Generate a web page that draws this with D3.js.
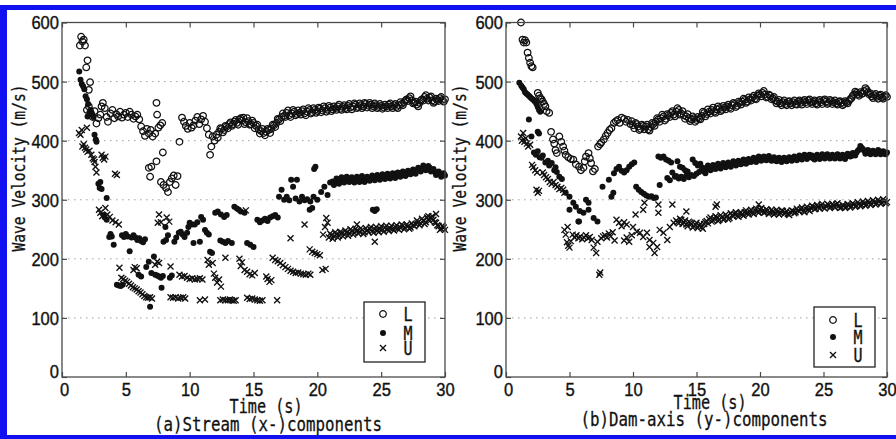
<!DOCTYPE html>
<html>
<head>
<meta charset="utf-8">
<script src="https://cdn.jsdelivr.net/npm/d3@7"></script>
<style>
  body { margin: 0; background: #fff; }
  svg { display: block; }
</style>
</head>
<body>
<svg id="fig" width="896" height="439"></svg>
<script>
// ---- Axis ticks ----
const timeTicks = [0, 5, 10, 15, 20, 25, 30];
const velocityTicks = [0, 100, 200, 300, 400, 500, 600];
const gridValues = [100, 200, 300, 400, 500];
const seriesNames = ["L", "M", "U"];

// ---- (a) Stream (x-) components : [time (s), wave velocity (m/s)] ----
const streamL = [
  [1.4,561],[1.5,576],[1.6,568],[1.7,571],[1.8,561],[1.9,524],[2.0,536],[2.1,486],[2.2,499],
  [1.95,452],[2.1,458],[2.25,447],[2.4,440],[2.55,450],[2.7,429],[2.85,438],[3.0,444],[3.1,458],
  [3.2,464],[3.35,455],[3.5,440],[3.6,432],[3.8,446],[3.95,452],[4.1,438],[4.25,445],[4.4,441],
  [4.55,449],[4.7,439],[4.85,444],[5.0,447],[5.15,440],[5.3,449],[5.45,444],[5.6,437],[5.75,441],
  [5.9,444],[6.05,436],[6.2,424],[6.35,416],[6.5,408],[6.65,420],[6.8,412],[6.95,418],[7.1,407],
  [7.3,412],[7.4,464],[7.45,444],[7.55,422],[7.7,426],[7.85,430],
  [6.8,354],[6.9,339],[7.0,356],[7.4,365],[7.9,380],[7.75,330],[7.95,325],[8.15,320],[8.3,313],
  [8.45,330],[8.6,336],[8.75,341],[8.9,325],[9.05,340],[9.2,398],
  [9.4,439],[9.55,432],[9.7,425],[9.85,420],[10.0,430],[10.15,422],[10.3,426],[10.45,434],[10.6,440],
  [10.75,428],[10.9,436],[11.05,442],[11.2,432],[11.35,421],[11.5,410],[11.6,376],[11.7,390],[11.8,407],
  [11.95,400],[12.1,410],[12.3,415],[12.5,420],[12.7,418],[12.9,424],[13.1,428],[13.3,425],[13.5,432],
  [13.7,430],[13.9,436],[14.1,434],[14.2,439],[14.4,431],[14.6,433],[14.8,428],[15.0,430],[15.2,425],
  [15.4,419],[15.6,416],[15.8,413],[16.0,415],[16.2,418],[16.4,420],[16.6,426],[16.8,430],[17.0,436],
  [17.2,440],[17.4,442],[17.6,447],[17.8,443],[18.0,446],[18.2,449],[18.4,445],[18.6,447],[18.8,450],
  [19.0,446],[19.2,449],[19.4,452],[19.6,448],[19.8,452],[20.0,450],[20.2,454],[20.4,451],[20.6,455],
  [20.8,452],[21.0,456],[21.2,453],[21.4,455],[21.6,458],[21.8,454],[22.0,457],[22.2,455],[22.4,459],
  [22.6,456],[22.8,458],[23.0,461],[23.2,457],[23.4,460],[23.6,458],[23.8,462],[24.0,459],[24.2,461],
  [24.4,458],[24.6,460],[24.8,457],[25.0,459],[25.2,456],[25.4,458],[25.6,461],[25.8,458],[26.0,460],
  [26.2,457],[26.4,460],[26.6,462],[26.8,465],[27.0,470],[27.2,472],[27.4,468],[27.6,464],[27.8,461],
  [28.0,464],[28.2,470],[28.4,474],[28.6,471],[28.8,473],[29.0,468],[29.2,466],[29.4,469],[29.6,472],
  [29.8,469],[30.0,470]
];
const streamLDense = [
  [12.2,405],[12.4,421],[12.6,414],[12.8,425],[13.0,421],[13.2,431],[13.4,428],[13.6,435],[13.8,427],
  [14.0,438],[14.3,428],[14.5,438],[14.7,427],[14.9,434],[15.1,421],[15.3,427],[15.5,412],[15.7,420],
  [15.9,409],[16.1,420],[16.3,413],[16.5,427],[16.7,423],[16.9,437],[17.1,433],[17.3,446],[17.5,440],
  [17.7,451],[17.9,440],[18.1,452],[18.3,443],[18.5,451],[18.7,444],[18.9,453],[19.1,443],[19.3,455],
  [19.5,446],[19.7,455],[19.9,447],[20.1,456],[20.3,448],[20.5,458],[20.7,449],[20.9,459],[21.1,450],
  [21.3,458],[21.5,452],[21.7,461],[21.9,452],[22.1,460],[22.3,453],[22.5,462],[22.7,453],[22.9,463],
  [23.1,455],[23.3,463],[23.5,455],[23.7,464],[23.9,456],[24.1,464],[24.3,455],[24.5,463],[24.7,455],
  [24.9,462],[25.1,454],[25.3,461],[25.5,455],[25.7,463],[25.9,455],[26.1,462],[26.3,455],[26.5,465],
  [26.7,460],[26.9,468],[27.1,467],[27.3,475],[27.5,463],[27.7,466],[27.9,458],[28.1,468],[28.3,468],
  [28.5,477],[28.7,468],[28.9,475],[29.1,464],[29.3,471],[29.5,467],[29.7,474],[29.9,466]
];
const streamM = [
  [1.35,517],[1.45,503],[1.55,496],[1.65,492],[1.75,487],[1.85,475],[1.95,470],[2.05,462],[2.0,441],
  [2.15,448],[2.25,452],[2.35,445],[2.45,440],[2.55,410],[2.65,402],[2.7,398],[2.85,327],[2.95,320],
  [3.0,330],[3.1,318],[3.5,303],[3.25,274],[3.35,270],[3.5,266],[3.7,237],[3.8,242],[3.9,238],[4.05,224],
  [4.3,156],[4.45,155],[4.6,154],[4.75,156],[4.7,240],[4.85,237],[5.0,242],[5.15,238],[5.3,213],
  [5.45,236],[5.6,240],[5.75,236],[5.9,232],[6.05,235],[6.2,230],[6.35,228],[6.5,233],[6.0,173],
  [6.2,170],[6.6,186],[6.8,195],[6.9,119],[7.0,176],[7.2,204],[7.3,173],[7.45,172],[7.6,170],[7.75,168],
  [7.9,171],[7.8,151],[8.1,254],[8.3,240],[8.45,168],[8.6,172],[7.95,229],[8.15,232],[8.8,229],
  [8.95,236],[9.15,244],[9.3,246],[9.45,241],[9.6,237],[9.8,244],[9.9,254],[10.0,261],[10.2,258],
  [10.4,258],[10.6,262],[10.3,227],[10.8,229],[10.9,271],[11.05,266],[11.2,249],[11.35,244],[11.5,241],
  [11.6,212],[11.75,210],[12.0,278],[12.2,280],[12.45,275],[12.7,271],[12.9,274],[12.4,231],[12.6,229],
  [12.8,227],[13.0,230],[13.3,227],[13.5,288],[13.7,285],[13.85,283],[14.0,280],[14.3,278],[14.5,227],
  [14.75,224],[15.0,220],[15.3,266],[15.5,262],[15.7,265],[15.9,268],[16.1,264],[16.3,270],[16.5,272],
  [16.7,274],[16.9,270],[17.0,305],[17.2,317],[17.4,300],[17.6,305],[17.8,299],[17.95,334],[18.1,322],
  [18.4,334],[18.3,302],[18.6,297],[18.8,305],[19.0,299],[19.2,301],[19.4,283],[19.45,297],[19.6,286],
  [19.7,305],[19.75,352],[19.85,356],[20.0,300],[20.3,313],[20.55,322],[20.8,308],[21.0,329],
  [21.2,331],[21.4,328],[21.6,334],[21.8,331],[22.0,336],[22.2,333],[22.4,337],[22.6,334],[22.8,332],
  [23.0,336],[23.2,333],[23.4,337],[23.6,335],[23.8,333],[24.0,337],[24.2,335],[24.4,338],[24.6,336],
  [24.8,339],[25.0,337],[25.2,340],[25.4,338],[25.6,341],[25.8,339],[26.0,342],[26.2,340],[26.4,344],
  [26.6,342],[26.8,345],[27.0,343],[27.2,346],[27.4,348],[27.6,346],[27.8,350],[28.0,351],[28.2,353],
  [28.4,355],[28.6,352],[28.8,354],[29.0,350],[29.2,347],[29.4,344],[29.6,345],[29.8,342],[30.0,341],
  [24.35,283],[24.5,281],[24.65,284]
];
const streamMDense = [
  [21.3,325],[21.5,336],[21.7,327],[21.9,338],[22.1,329],[22.3,339],[22.5,330],[22.7,338],[22.9,329],
  [23.1,339],[23.3,330],[23.5,340],[23.7,330],[23.9,339],[24.1,332],[24.3,341],[24.5,333],[24.7,342],
  [24.9,334],[25.1,343],[25.3,335],[25.5,344],[25.7,336],[25.9,345],[26.1,337],[26.3,346],[26.5,339],
  [26.7,348],[26.9,340],[27.1,349],[27.3,343],[27.5,351],[27.7,344],[27.9,354],[28.1,348],[28.3,358],
  [28.5,350],[28.7,357],[28.9,348],[29.1,352],[29.3,342],[29.5,348],[29.7,339],[29.9,345]
];
const streamU = [
  [1.33,413],[1.45,410],[1.55,418],[1.95,422],[1.6,390],[1.7,394],[1.8,388],[1.9,385],[2.0,381],
  [2.15,383],[2.3,376],[2.4,370],[2.5,368],[2.55,364],[2.62,356],[2.7,346],[3.1,376],[3.2,371],
  [3.3,368],[3.4,373],[4.15,344],[4.3,342],[2.9,283],[3.0,278],[3.15,272],[3.4,286],[3.55,275],
  [3.75,271],[3.95,265],[4.2,262],[4.45,258],[4.5,185],[4.65,168],[4.8,166],[4.95,163],[5.1,161],
  [5.25,158],[5.4,155],[5.55,152],[5.7,150],[5.85,148],[6.0,145],[6.15,143],[6.3,140],[6.45,137],
  [6.6,135],[6.75,134],[6.9,135],[7.05,133],[5.6,181],[5.7,186],[5.85,184],[7.3,190],[7.45,195],
  [7.6,193],[7.5,261],[7.6,275],[7.75,262],[8.2,270],[8.4,263],[8.5,187],[8.5,135],[8.7,134],[8.9,135],
  [9.1,133],[9.3,134],[9.5,135],[9.65,133],[9.2,173],[9.4,170],[9.6,171],[9.8,168],[10.0,166],
  [10.2,167],[10.4,165],[10.6,166],[10.8,167],[11.0,165],[10.8,130],[11.2,131],[11.4,198],[11.5,190],
  [11.8,193],[11.9,175],[12.0,168],[12.15,160],[12.3,165],[12.45,153],[12.4,130],[12.6,131],[12.8,130],
  [13.0,130],[13.15,131],[13.3,130],[13.45,129],[13.6,130],[12.8,202],[13.9,200],[14.0,188],[14.1,194],
  [14.3,181],[14.4,282],[14.5,178],[14.7,174],[14.9,172],[15.1,176],[14.5,134],[14.7,132],[14.9,133],
  [15.1,131],[15.3,130],[15.5,129],[15.7,130],[16.0,170],[16.1,166],[16.25,161],[16.4,164],[16.85,130],
  [16.5,202],[16.7,198],[16.9,196],[17.1,193],[17.3,189],[17.5,186],[17.7,183],[17.9,180],[18.1,178],
  [18.3,176],[18.5,177],[18.7,175],[18.9,174],[19.1,173],[19.3,175],[19.45,173],[17.9,235],[19.0,258],
  [19.4,216],[19.6,212],[19.8,210],[20.0,208],[20.2,206],[20.4,181],[20.65,183],[20.45,241],[20.6,254],
  [20.8,261],[20.7,269],
  [20.9,236],[21.1,240],[21.3,238],[21.5,242],[21.7,239],[21.9,244],[22.1,241],[22.3,245],[22.5,243],
  [22.7,247],[22.9,244],[23.1,248],[23.3,246],[23.5,249],[23.7,245],[23.9,248],[24.1,251],[24.3,247],
  [24.5,250],[24.7,248],[24.9,251],[25.1,249],[25.3,253],[25.5,250],[25.7,252],[25.9,250],[26.1,254],
  [26.3,251],[26.5,253],[26.7,256],[26.9,252],[27.1,255],[27.3,253],[27.5,257],[27.7,259],[27.9,262],
  [28.1,260],[28.3,265],[28.5,262],[28.7,267],[28.9,270],[29.1,266],[29.3,261],[29.5,255],[29.7,251],
  [29.9,253],[23.1,258],[24.5,229],[28.7,272],[29.3,276]
];
const streamUDense = [
  [21.0,243],[21.2,234],[21.4,245],[21.6,236],[21.8,246],[22.0,238],[22.2,248],[22.4,239],[22.6,250],
  [22.8,241],[23.0,251],[23.2,243],[23.4,252],[23.6,242],[23.8,252],[24.0,245],[24.2,254],[24.4,244],
  [24.6,254],[24.8,245],[25.0,255],[25.2,246],[25.4,256],[25.6,247],[25.8,256],[26.0,248],[26.2,257],
  [26.4,249],[26.6,258],[26.8,250],[27.0,258],[27.2,251],[27.4,260],[27.6,255],[27.8,265],[28.0,257],
  [28.2,268],[28.4,259],[28.6,270],[28.8,264],[29.0,272],[29.2,262],[29.4,257],[29.6,249],[29.8,256],
  [30.0,249]
];

// ---- (b) Dam-axis (y-) components : [time (s), wave velocity (m/s)] ----
const damL = [
  [1.18,600],[1.3,571],[1.4,566],[1.5,570],[1.6,566],[1.7,549],[1.8,540],[1.9,532],[2.0,526],[2.1,524],
  [2.5,481],[2.6,476],[2.7,472],[2.8,470],[2.9,466],[3.0,462],[3.1,458],[3.2,450],[3.4,447],[3.55,415],
  [3.7,402],[3.8,395],[3.9,384],[4.0,379],[4.2,407],[4.35,398],[4.5,390],[4.6,383],[4.7,376],[4.9,372],
  [5.1,369],[5.3,368],[5.5,360],[5.75,356],[5.9,350],[6.1,354],[6.2,365],[6.3,373],[6.5,379],[6.6,370],
  [6.7,362],[6.85,348],[7.0,352],[7.25,390],[7.4,394],[7.5,397],[7.7,402],[7.85,408],[8.0,413],[8.15,418],
  [8.3,421],[8.5,430],[8.65,433],[8.8,435],[8.95,430],[9.1,439],[9.3,437],[9.45,432],[9.6,435],[9.8,428],
  [10.0,426],[10.2,430],[10.4,424],[10.6,420],[10.8,425],[11.0,424],[11.2,419],[11.4,423],[11.6,428],
  [11.8,432],[12.0,436],[12.2,438],[12.4,441],[12.6,437],[12.8,443],[13.0,447],[13.2,444],[13.4,449],
  [13.6,452],[13.8,446],[14.0,443],[14.2,441],[14.4,438],[14.6,436],[14.8,438],[15.0,435],[15.2,437],
  [15.4,442],[15.6,447],[15.8,445],[16.0,449],[16.2,452],[16.4,449],[16.6,453],[16.8,455],[17.0,452],
  [17.2,456],[17.4,458],[17.6,456],[17.8,460],[18.0,462],[18.2,459],[18.4,464],[18.6,466],[18.8,469],
  [19.0,466],[19.2,470],[19.4,473],[19.6,471],[19.8,476],[20.0,478],[20.2,481],[20.4,478],[20.6,474],
  [20.8,476],[21.0,472],[21.2,468],[21.4,466],[21.6,463],[21.8,465],[22.0,462],[22.2,466],[22.4,463],
  [22.6,465],[22.8,462],[23.0,466],[23.2,464],[23.4,467],[23.6,465],[23.8,468],[24.0,465],[24.2,466],
  [24.4,463],[24.6,467],[24.8,465],[25.0,468],[25.2,466],[25.4,464],[25.6,467],[25.8,465],[26.0,463],
  [26.2,466],[26.4,464],[26.6,462],[26.8,465],[27.0,467],[27.2,472],[27.4,478],[27.6,481],[27.8,476],
  [28.0,479],[28.2,484],[28.4,486],[28.6,478],[28.8,475],[29.0,477],[29.2,474],[29.4,476],[29.6,473],
  [29.8,475],[30.0,474]
];
const damLDense = [
  [9.9,433],[10.1,421],[10.3,428],[10.5,418],[10.7,427],[10.9,419],[11.1,427],[11.3,417],[11.5,430],
  [11.7,425],[11.9,438],[12.1,432],[12.3,444],[12.5,434],[12.7,445],[12.9,440],[13.1,450],[13.3,441],
  [13.5,455],[13.7,444],[13.9,450],[14.1,437],[14.3,445],[14.5,433],[14.7,441],[14.9,432],[15.1,440],
  [15.3,436],[15.5,449],[15.7,441],[15.9,453],[16.1,446],[16.3,456],[16.5,447],[16.7,458],[16.9,450],
  [17.1,459],[17.3,453],[17.5,461],[17.7,454],[17.9,464],[18.1,457],[18.3,466],[18.5,461],[18.7,471],
  [18.9,464],[19.1,473],[19.3,468],[19.5,476],[19.7,470],[19.9,480],[20.1,475],[20.3,484],[20.5,473],
  [20.7,478],[20.9,470],[21.1,474],[21.3,463],[21.5,469],[21.7,460],[21.9,468],[22.1,460],[22.3,467],
  [22.5,460],[22.7,468],[22.9,461],[23.1,468],[23.3,461],[23.5,469],[23.7,462],[23.9,470],[24.1,462],
  [24.3,468],[24.5,461],[24.7,469],[24.9,462],[25.1,470],[25.3,462],[25.5,469],[25.7,462],[25.9,468],
  [26.1,461],[26.3,467],[26.5,460],[26.7,467],[26.9,463],[27.1,470],[27.3,476],[27.5,483],[27.7,478],
  [27.9,482],[28.1,480],[28.3,489],[28.5,482],[28.7,480],[28.9,472],[29.1,479],[29.3,471],[29.5,478],
  [29.7,471],[29.9,477]
];
const damM = [
  [1.05,498],[1.2,493],[1.3,490],[1.4,487],[1.5,482],[1.6,480],[1.7,478],[1.8,476],[1.9,474],[2.0,472],
  [2.1,470],[2.2,468],[2.3,466],[2.4,462],[2.5,457],[2.6,452],[2.7,449],[1.8,436],[2.0,407],[2.5,415],
  [2.6,412],[2.2,380],[2.35,376],[2.5,382],[2.65,372],[2.8,371],[2.9,375],[3.1,363],[3.3,366],[3.4,358],
  [3.6,362],[3.8,350],[3.9,355],[4.0,347],[4.2,339],[4.4,335],[4.7,312],[5.0,305],[5.3,295],[5.5,288],
  [5.8,281],[6.1,278],[6.5,283],[5.0,283],[5.7,263],[6.3,300],[6.5,295],[6.9,269],[7.2,263],[5.75,263],
  [7.6,322],[8.1,334],[8.3,305],[8.45,312],[8.5,345],[8.7,352],[8.9,356],[9.1,349],[9.3,346],[9.5,350],
  [9.7,356],[9.9,360],[10.1,363],[10.25,322],[10.45,317],[10.65,313],[10.85,310],[11.05,307],[11.25,305],
  [11.45,306],[11.65,303],[11.8,304],[12.1,325],[12.0,373],[12.2,371],[12.4,373],[12.6,368],[12.8,366],
  [13.0,363],[13.1,346],[13.3,339],[12.7,337],[12.9,333],[13.5,365],
  [13.4,340],[13.6,336],[13.8,339],[14.0,335],[14.2,341],[14.4,338],[14.6,342],[14.8,340],
  [13.7,356],[13.9,354],[14.1,350],[14.3,348],[14.7,368],[14.9,362],[15.1,358],[15.3,361],
  [15.0,344],[15.2,347],[15.4,350],[15.6,348],[15.8,352],[16.0,355],[16.2,352],[16.4,356],[16.6,358],
  [16.8,355],[17.0,359],[17.2,357],[17.4,360],[17.6,358],[17.8,361],[18.0,363],[18.2,360],[18.4,364],
  [18.6,362],[18.8,365],[19.0,363],[19.2,366],[19.4,368],[19.6,366],[19.8,369],[20.0,371],[20.2,368],
  [20.4,370],[20.6,372],[20.8,369],[21.0,367],[21.2,370],[21.4,368],[21.6,366],[21.8,369],[22.0,367],
  [22.2,370],[22.4,368],[22.6,371],[22.8,369],[23.0,372],[23.2,370],[23.4,373],[23.6,371],[23.8,374],
  [24.0,372],[24.2,370],[24.4,373],[24.6,371],[24.8,374],[25.0,372],[25.2,375],[25.4,373],[25.6,371],
  [25.8,374],[26.0,372],[26.2,375],[26.4,373],[26.6,371],[26.8,374],[27.0,376],[27.2,374],[27.4,377],
  [27.6,380],[27.8,385],[28.0,388],[28.2,383],[28.4,380],[28.6,382],[28.8,379],[29.0,381],[29.2,379],
  [29.4,382],[29.6,380],[29.8,378],[30.0,380]
];
const damMDense = [
  [15.5,354],[15.7,345],[15.9,358],[16.1,350],[16.3,359],[16.5,352],[16.7,361],[16.9,353],[17.1,362],
  [17.3,355],[17.5,363],[17.7,356],[17.9,365],[18.1,358],[18.3,366],[18.5,360],[18.7,368],[18.9,361],
  [19.1,369],[19.3,364],[19.5,371],[19.7,364],[19.9,373],[20.1,366],[20.3,373],[20.5,367],[20.7,374],
  [20.9,366],[21.1,372],[21.3,365],[21.5,371],[21.7,364],[21.9,371],[22.1,365],[22.3,372],[22.5,366],
  [22.7,373],[22.9,367],[23.1,375],[23.3,368],[23.5,376],[23.7,369],[23.9,376],[24.1,375],[24.3,368],
  [24.5,376],[24.7,369],[24.9,377],[25.1,370],[25.3,377],[25.5,370],[25.7,376],[25.9,370],[26.1,377],
  [26.3,370],[26.5,376],[26.7,369],[26.9,378],[27.1,373],[27.3,379],[27.5,375],[27.7,383],[27.9,391],
  [28.1,386],[28.3,378],[28.5,384],[28.7,377],[28.9,383],[29.1,377],[29.3,384],[29.5,377],[29.7,382],
  [29.9,377]
];
const damU = [
  [1.18,407],[1.25,400],[1.35,413],[1.45,398],[1.55,404],[1.65,395],[1.75,390],[1.9,393],[2.05,359],
  [2.15,355],[2.3,350],[2.45,346],[2.4,317],[2.5,312],[2.6,315],[2.9,346],[3.0,342],[3.15,338],[3.3,335],
  [3.45,330],[3.6,327],[3.75,330],[3.9,325],[4.05,322],[4.2,318],[4.35,320],[4.5,317],[4.6,312],
  [4.6,249],[4.7,241],[4.8,228],[4.9,222],[5.0,219],[5.1,230],[4.85,254],[5.25,241],[5.4,236],[5.55,240],
  [5.7,235],[5.85,238],[6.0,233],[6.15,236],[6.3,240],[6.45,235],[6.6,237],[6.75,232],[6.9,219],[7.1,210],
  [7.2,229],[7.35,173],[7.42,177],[7.5,235],[7.65,238],[7.8,240],[7.95,236],[8.1,243],[8.25,238],[8.4,245],
  [8.55,231],[8.7,266],[8.9,261],[9.1,255],[9.3,262],[9.5,258],[9.3,231],[9.5,236],[9.7,229],[9.9,240],
  [10.0,254],[10.2,275],[10.3,246],[10.55,244],[10.8,237],[10.8,283],[10.9,295],[11.1,244],[11.3,232],
  [11.3,220],[11.6,227],[11.7,210],[11.9,220],[12.0,292],[12.0,278],[12.1,249],[12.4,244],[12.7,232],
  [12.9,254],[13.1,292],[13.2,261],
  [13.4,265],[13.6,260],[13.8,266],[14.0,262],[14.2,258],[14.4,263],[14.6,259],[14.8,255],[15.0,261],
  [15.2,256],[15.4,254],[15.6,259],[15.8,264],[16.0,267],[16.2,263],[16.4,268],[16.6,270],[16.8,266],
  [17.0,271],[17.2,268],[17.4,272],[17.6,269],[17.8,274],[18.0,276],[18.2,273],[18.4,277],[18.6,275],
  [18.8,279],[19.0,277],[19.2,280],[19.4,278],[19.6,282],[19.8,280],[20.0,283],[20.2,281],[20.4,279],
  [20.6,282],[20.8,278],[21.0,280],[21.2,277],[21.4,280],[21.6,278],[21.8,281],[22.0,278],[22.2,276],
  [22.4,279],[22.6,281],[22.8,279],[23.0,282],[23.2,284],[23.4,281],[23.6,285],[23.8,283],[24.0,286],
  [24.2,288],[24.4,285],[24.6,288],[24.8,290],[25.0,287],[25.2,289],[25.4,291],[25.6,288],[25.8,290],
  [26.0,292],[26.2,289],[26.4,287],[26.6,290],[26.8,288],[27.0,291],[27.2,289],[27.4,292],[27.6,290],
  [27.8,293],[28.0,291],[28.2,294],[28.4,292],[28.6,295],[28.8,293],[29.0,296],[29.2,294],[29.4,297],
  [29.6,295],[29.8,298],[30.0,296],
  [14.2,280],[16.5,288],[16.6,292],[19.9,292]
];
const damUDense = [
  [13.5,262],[13.7,268],[13.9,259],[14.1,265],[14.3,255],[14.5,261],[14.7,253],[14.9,258],[15.1,252],
  [15.3,259],[15.5,251],[15.7,262],[15.9,260],[16.1,270],[16.3,265],[16.5,272],[16.7,264],[16.9,274],
  [17.1,266],[17.3,275],[17.5,267],[17.7,277],[17.9,272],[18.1,279],[18.3,271],[18.5,279],[18.7,273],
  [18.9,282],[19.1,275],[19.3,283],[19.5,276],[19.7,285],[19.9,278],[20.1,286],[20.3,278],[20.5,284],
  [20.7,276],[20.9,283],[21.1,275],[21.3,283],[21.5,275],[21.7,282],[21.9,276],[22.1,281],[22.3,274],
  [22.5,282],[22.7,277],[22.9,285],[23.1,280],[23.3,287],[23.5,279],[23.7,288],[23.9,281],[24.1,290],
  [24.3,284],[24.5,291],[24.7,285],[24.9,293],[25.1,285],[25.3,293],[25.5,286],[25.7,293],[25.9,287],
  [26.1,294],[26.3,286],[26.5,291],[26.7,286],[26.9,293],[27.1,287],[27.3,294],[27.5,288],[27.7,296],
  [27.9,289],[28.1,297],[28.3,290],[28.5,298],[28.7,291],[28.9,299],[29.1,292],[29.3,300],[29.5,293],
  [29.7,301],[29.9,294]
];

// ---- Drawing ----
const svg = d3.select("#fig");
const INK = "#111";
const AXIS = "#4a4a4a";
const monoFont = "'DejaVu Sans Mono', 'Liberation Mono', monospace";
const numFont = "'Liberation Sans', Arial, sans-serif";

svg.append("rect").attr("width", 896).attr("height", 439).attr("fill", "#fff");

const xMark = "M-3,-3L3,3M-3,3L3,-3";

function drawMarker(sel, kind) {
  if (kind === "L") {
    sel.append("circle").attr("r", 3.3).attr("fill", "none")
      .attr("stroke", INK).attr("stroke-width", 1.25);
  } else if (kind === "M") {
    sel.append("circle").attr("r", 3).attr("fill", INK);
  } else {
    sel.append("path").attr("d", xMark).attr("fill", "none")
      .attr("stroke", INK).attr("stroke-width", 1.35);
  }
}

// narrow, slightly heavy lettering
function squeeze(sel, perChar) {
  sel.attr("textLength", function () { return this.textContent.length * perChar; })
     .attr("lengthAdjust", "spacingAndGlyphs");
}
function heavy(sel, w) {
  sel.attr("stroke", "#111").attr("stroke-width", w).attr("paint-order", "stroke");
}

function drawPanel(p) {
  const x = d3.scaleLinear().domain([0, 30]).range([p.left, p.right]);
  const y = d3.scaleLinear().domain([0, 600]).range([377, 22.5]);
  const g = svg.append("g");

  // dotted horizontal grid
  g.append("g").selectAll("line").data(gridValues).join("line")
    .attr("x1", x(0)).attr("x2", x(30))
    .attr("y1", d => y(d)).attr("y2", d => y(d))
    .attr("stroke", "#a0a0a0").attr("stroke-width", 1)
    .attr("stroke-dasharray", "1.5,4.5");

  // scatter series
  const series = { L: p.L, M: p.M, U: p.U };
  seriesNames.forEach(name => {
    const pts = g.append("g").selectAll("g").data(series[name]).join("g")
      .attr("transform", d => `translate(${x(d[0])},${y(d[1])})`);
    drawMarker(pts, name);
  });

  // frame
  g.append("rect").attr("x", x(0)).attr("y", y(600))
    .attr("width", x(30) - x(0)).attr("height", y(0) - y(600))
    .attr("fill", "none").attr("stroke", AXIS).attr("stroke-width", 1.3);

  const styleAxis = (ax) => {
    ax.select(".domain").remove();
    ax.selectAll(".tick line").attr("stroke", AXIS).attr("stroke-width", 1.2);
    ax.selectAll("text").attr("fill", "#111").attr("font-family", numFont).attr("font-size", 19);
  };

  const bottom = g.append("g").attr("transform", `translate(0,${y(0)})`)
    .call(d3.axisBottom(x).tickValues(timeTicks).tickSizeInner(-5).tickSizeOuter(0).tickPadding(6));
  styleAxis(bottom);
  bottom.selectAll("text").attr("dx", d => d === 0 ? 2 : 0);
  squeeze(bottom.selectAll("text"), 9.2);
  heavy(bottom.selectAll("text"), 0.4);

  const left = g.append("g").attr("transform", `translate(${x(0)},0)`)
    .call(d3.axisLeft(y).tickValues(velocityTicks).tickSizeInner(-5).tickSizeOuter(0).tickPadding(3));
  styleAxis(left);
  left.selectAll("text").attr("dy", d => d === 0 ? "0.05em" : "0.34em");
  squeeze(left.selectAll("text"), 9.2);
  heavy(left.selectAll("text"), 0.4);

  const top = g.append("g").attr("transform", `translate(0,${y(600)})`)
    .call(d3.axisTop(x).tickValues(timeTicks).tickSizeInner(-5).tickSizeOuter(0).tickFormat(""));
  styleAxis(top);
  const right = g.append("g").attr("transform", `translate(${x(30)},0)`)
    .call(d3.axisRight(y).tickValues(velocityTicks).tickSizeInner(-5).tickSizeOuter(0).tickFormat(""));
  styleAxis(right);

  // axis titles
  heavy(g.append("text").attr("x", p.timeX).attr("y", p.timeY)
    .attr("text-anchor", "middle").attr("font-family", monoFont).attr("font-size", 20)
    .attr("fill", "#111").attr("textLength", 73).attr("lengthAdjust", "spacingAndGlyphs")
    .text("Time (s)"), 0.3);
  heavy(g.append("text").attr("x", p.capX).attr("y", p.capY)
    .attr("text-anchor", "middle").attr("font-family", monoFont).attr("font-size", 20)
    .attr("fill", "#111").attr("textLength", p.capLen).attr("lengthAdjust", "spacingAndGlyphs")
    .text(p.caption), 0.3);
  heavy(g.append("text")
    .attr("transform", `translate(${p.yLabX},168) rotate(-90)`)
    .attr("text-anchor", "middle").attr("font-family", monoFont).attr("font-size", 18)
    .attr("fill", "#111").attr("textLength", 167).attr("lengthAdjust", "spacingAndGlyphs")
    .text("Wave Velocity (m/s)"), 0.3);

  // legend
  const lg = g.append("g").attr("transform", `translate(${p.legX},${p.legY})`);
  lg.append("rect").attr("width", 61).attr("height", 60)
    .attr("fill", "#fff").attr("stroke", "#222").attr("stroke-width", 1.3);
  seriesNames.forEach((name, i) => {
    const row = lg.append("g").attr("transform", `translate(19,${p.legRows[i]})`);
    drawMarker(row, name);
    heavy(row.append("text").attr("x", 25).attr("y", 7)
      .attr("text-anchor", "middle").attr("font-family", monoFont).attr("font-size", 20)
      .attr("fill", "#111").attr("textLength", 9).attr("lengthAdjust", "spacingAndGlyphs")
      .text(name), 0.4);
  });
}

drawPanel({
  L: streamL.concat(streamLDense), M: streamM.concat(streamMDense), U: streamU.concat(streamUDense),
  left: 62, right: 445,
  timeX: 266, timeY: 413, capX: 268, capY: 431, capLen: 228,
  caption: "(a)Stream (x-)components", yLabX: 25,
  legX: 364, legY: 302, legRows: [12, 31, 46]
});
drawPanel({
  L: damL.concat(damLDense), M: damM.concat(damMDense), U: damU.concat(damUDense),
  left: 506, right: 887,
  timeX: 710, timeY: 409, capX: 704, capY: 426, capLen: 247,
  caption: "(b)Dam-axis (y-)components", yLabX: 466,
  legX: 814, legY: 307, legRows: [13, 30, 48]
});

// blue outer border
const blue = "#1010f0";
svg.append("rect").attr("x", 0).attr("y", 5).attr("width", 896).attr("height", 5).attr("fill", blue);
svg.append("rect").attr("x", 0).attr("y", 5).attr("width", 7).attr("height", 434).attr("fill", blue);
svg.append("rect").attr("x", 0).attr("y", 435).attr("width", 896).attr("height", 4).attr("fill", blue);
</script>
</body>
</html>
